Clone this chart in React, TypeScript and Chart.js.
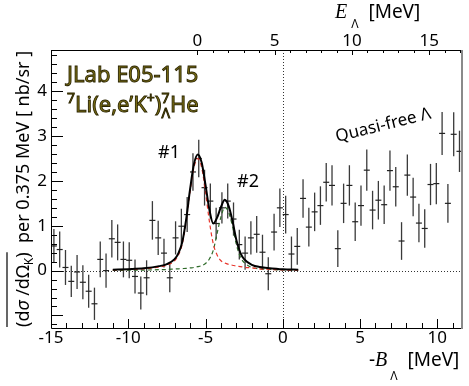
import { useEffect, useRef } from "react";
import { Chart, registerables } from "chart.js";

Chart.register(...registerables);

// ---- data ----
const binCenters = [
  -14.8125, -14.4375, -14.0625, -13.6875, -13.3125, -12.9375, -12.5625, -12.1875, -11.8125, -11.4375,
  -11.0625, -10.6875, -10.3125, -9.9375, -9.5625, -9.1875, -8.8125, -8.4375, -8.0625, -7.6875,
  -7.3125, -6.9375, -6.5625, -6.1875, -5.8125, -5.4375, -5.0625, -4.6875, -4.3125, -3.9375,
  -3.5625, -3.1875, -2.8125, -2.4375, -2.0625, -1.6875, -1.3125, -0.9375, -0.5625, -0.1875,
  0.1875, 0.5625, 0.9375, 1.3125, 1.6875, 2.0625, 2.4375, 2.8125, 3.1875, 3.5625,
  3.9375, 4.3125, 4.6875, 5.0625, 5.4375, 5.8125, 6.1875, 6.5625, 6.9375, 7.3125,
  7.6875, 8.0625, 8.4375, 8.8125, 9.1875, 9.5625, 9.9375, 10.3125, 10.6875, 11.0625,
  11.4375,
];
const yields = [
  0.55, 0.47, 0.07, -0.24, -0.03, -0.26, -0.46, -0.74, 0.25, 0.0,
  0.71, 0.63, 0.25, 0.23, -0.13, -0.5, -0.16, 1.12, 0.73, 0.39,
  -0.16, 0.73, 0.99, 1.25, 2.2, 2.5, 1.85, 1.55, 1.05, 1.4,
  1.55, 1.15, 0.58, 0.39, 0.73, 0.81, 0.41, -0.07, 0.86, 1.4,
  1.25, 0.37, 0.54, 1.61, 0.97, 1.31, 1.45, 1.97, 1.9, 0.49,
  1.5, 1.9, 1.09, 1.45, 2.24, 1.35, 1.57, 1.47, 2.23, 1.87,
  0.66, 2.13, 1.64, 1.06, 0.94, 1.92, 1.94, 3.06, 1.5, 3.04,
  2.66,
];
const errors = [
  0.38, 0.4, 0.39, 0.35, 0.38, 0.38, 0.37, 0.36, 0.4, 0.38,
  0.42, 0.4, 0.4, 0.4, 0.38, 0.37, 0.39, 0.43, 0.38, 0.32,
  0.32, 0.37, 0.39, 0.39, 0.42, 0.42, 0.4, 0.39, 0.35, 0.35,
  0.39, 0.37, 0.33, 0.37, 0.37, 0.41, 0.39, 0.37, 0.41, 0.43,
  0.42, 0.39, 0.41, 0.43, 0.43, 0.43, 0.43, 0.43, 0.45, 0.41,
  0.44, 0.45, 0.43, 0.45, 0.46, 0.43, 0.43, 0.43, 0.45, 0.44,
  0.42, 0.46, 0.43, 0.43, 0.43, 0.46, 0.46, 0.48, 0.43, 0.49,
  0.46,
];

const fitX = [
  -11, -10, -9, -8, -7.5, -7, -6.75, -6.5, -6.25, -6, -5.75, -5.5, -5.25, -5, -4.75,
  -4.5, -4.25, -4, -3.75, -3.5, -3.25, -3, -2.75, -2.5, -2, -1.5, -1, 0, 1,
];
const fitTotal = [
  0.02, 0.033, 0.052, 0.1, 0.145, 0.255, 0.39, 0.645, 1.15, 1.81, 2.37, 2.59, 2.41, 1.91, 1.36,
  1.05, 1.18, 1.42, 1.58, 1.44, 1.1, 0.68, 0.4, 0.255, 0.13, 0.08, 0.06, 0.03, 0.02,
];
const fitPeak1 = [
  0.015, 0.025, 0.04, 0.08, 0.12, 0.22, 0.35, 0.6, 1.1, 1.75, 2.3, 2.5, 2.3, 1.75, 1.1,
  0.6, 0.35, 0.22, 0.17, 0.14, 0.12, 0.1, 0.09, 0.075, 0.06, 0.04, 0.03, 0.015, 0.01,
];
const fitPeak2 = [
  0.005, 0.008, 0.012, 0.02, 0.025, 0.035, 0.04, 0.045, 0.05, 0.06, 0.07, 0.09, 0.11, 0.16, 0.26,
  0.45, 0.83, 1.2, 1.41, 1.3, 0.98, 0.58, 0.31, 0.18, 0.07, 0.04, 0.03, 0.015, 0.01,
];

const bTickLabels = [-15, -10, -5, 0, 5, 10];
const eTickLabels = [0, 5, 10, 15];
const yTickLabels = [0, 1, 2, 3, 4];
const E_OFFSET = 5.52;
const X_MIN = -15;
const X_MAX = 11.6;
const Y_MIN = -1.28;
const Y_MAX = 4.92;

const SANS = '"Noto Sans", "DejaVu Sans", sans-serif';
const SERIF = '"Liberation Serif", "DejaVu Serif", serif';

const errorBarPlugin = {
  id: "errorBars",
  beforeDatasetsDraw(chart: any) {
    const { ctx, chartArea, scales } = chart;
    const x = scales.x;
    const y = scales.y;
    ctx.save();
    ctx.beginPath();
    ctx.rect(chartArea.left, chartArea.top, chartArea.right - chartArea.left, chartArea.bottom - chartArea.top);
    ctx.clip();
    // dotted zero lines
    ctx.setLineDash([1, 2]);
    ctx.strokeStyle = "#333";
    ctx.lineWidth = 1;
    const x0 = Math.round(x.getPixelForValue(0)) + 0.5;
    const y0 = Math.round(y.getPixelForValue(0)) + 0.5;
    ctx.beginPath();
    ctx.moveTo(x0, chartArea.top);
    ctx.lineTo(x0, chartArea.bottom);
    ctx.moveTo(chartArea.left, y0);
    ctx.lineTo(chartArea.right, y0);
    ctx.stroke();
    ctx.setLineDash([]);
    // vertical error bars
    ctx.strokeStyle = "#3a3a3a";
    ctx.lineWidth = 1.3;
    for (let i = 0; i < binCenters.length; i++) {
      const px = x.getPixelForValue(binCenters[i]);
      const pLo = y.getPixelForValue(yields[i] - errors[i]);
      const pHi = y.getPixelForValue(yields[i] + errors[i]);
      ctx.beginPath();
      ctx.moveTo(px, pLo);
      ctx.lineTo(px, pHi);
      ctx.stroke();
    }
    ctx.restore();
  },
};

function drawText(ctx: CanvasRenderingContext2D, text: string, x: number, y: number, font: string) {
  ctx.font = font;
  ctx.fillText(text, x, y);
  return ctx.measureText(text).width;
}

const decorPlugin = {
  id: "decor",
  afterDraw(chart: any) {
    const { ctx, chartArea, scales } = chart;
    const { left, right, top, bottom } = chartArea;
    const x = scales.x;
    const x2 = scales.x2;
    const y = scales.y;
    ctx.save();
    // frame
    ctx.strokeStyle = "#000";
    ctx.lineWidth = 1;
    ctx.beginPath();
    ctx.moveTo(left + 0.5, top);
    ctx.lineTo(left + 0.5, bottom + 0.5);
    ctx.lineTo(right, bottom + 0.5);
    ctx.moveTo(left, top + 0.5);
    ctx.lineTo(right, top + 0.5);
    ctx.stroke();
    ctx.strokeStyle = "#8a8a8a";
    ctx.lineWidth = 2;
    ctx.beginPath();
    ctx.moveTo(right, top);
    ctx.lineTo(right, bottom + 1);
    ctx.stroke();

    // ticks
    ctx.strokeStyle = "#000";
    ctx.lineWidth = 1;
    ctx.beginPath();
    for (let k = Math.ceil(Y_MIN / 0.2); k <= Math.floor(Y_MAX / 0.2); k++) {
      const v = k * 0.2;
      const py = Math.round(y.getPixelForValue(v)) + 0.5;
      const len = k % 5 === 0 ? 12 : 6;
      ctx.moveTo(left, py);
      ctx.lineTo(left + len, py);
    }
    for (let v = Math.ceil(X_MIN); v <= Math.floor(X_MAX); v++) {
      const px = Math.round(x.getPixelForValue(v)) + 0.5;
      const len = v % 5 === 0 ? 9 : 5;
      ctx.moveTo(px, bottom);
      ctx.lineTo(px, bottom - len);
    }
    for (let v = 0; v <= Math.floor(X_MAX + E_OFFSET); v++) {
      const px = Math.round(x2.getPixelForValue(v)) + 0.5;
      const len = v % 5 === 0 ? 5 : 3;
      ctx.moveTo(px, top);
      ctx.lineTo(px, top + len);
    }
    ctx.stroke();

    // tick labels
    ctx.fillStyle = "#000";
    ctx.font = `17px ${SANS}`;
    ctx.textAlign = "right";
    ctx.textBaseline = "middle";
    for (const v of yTickLabels) {
      ctx.fillText(String(v), 47, y.getPixelForValue(v));
    }
    ctx.textAlign = "center";
    ctx.textBaseline = "alphabetic";
    for (const v of bTickLabels) {
      ctx.fillText(String(v), x.getPixelForValue(v), 343);
    }
    for (const v of eTickLabels) {
      ctx.fillText(String(v), x2.getPixelForValue(v), 46);
    }

    // axis titles
    ctx.textAlign = "left";
    // bottom: -B_Λ [MeV]
    let cx = 369;
    cx += drawText(ctx, "-", cx, 366, `19px ${SANS}`);
    cx += drawText(ctx, "B", cx, 366, `italic 20px ${SERIF}`);
    cx += 3;
    cx += drawText(ctx, "Λ", cx, 380, `12px ${SANS}`);
    cx += drawText(ctx, "  [MeV]", cx, 366, `19px ${SANS}`);
    // top: E_Λ [MeV]
    cx = 335;
    cx += drawText(ctx, "E", cx, 18, `italic 20px ${SERIF}`);
    cx += 4;
    cx += drawText(ctx, "Λ", cx, 28, `12px ${SANS}`);
    cx += drawText(ctx, "  [MeV]", cx, 18, `19px ${SANS}`);

    // y title (rotated)
    ctx.save();
    ctx.translate(29, 327);
    ctx.rotate(-Math.PI / 2);
    let rx = 0;
    const f18 = `18px ${SANS}`;
    rx += drawText(ctx, "(d", rx, 0, f18);
    rx += drawText(ctx, "σ", rx, 0, `italic 18px ${SANS}`);
    rx += drawText(ctx, " /dΩ", rx, 0, f18);
    rx += drawText(ctx, "K", rx, 4, `12px ${SANS}`);
    rx += drawText(ctx, ")", rx, 0, f18);
    const overEnd = rx;
    ctx.strokeStyle = "#000";
    ctx.lineWidth = 1.2;
    ctx.beginPath();
    ctx.moveTo(0, -22);
    ctx.lineTo(overEnd, -22);
    ctx.stroke();
    rx += drawText(ctx, "  per 0.375 MeV [ nb/sr ]", rx, 0, f18);
    ctx.restore();

    // experiment label
    ctx.lineWidth = 0.9;
    ctx.strokeStyle = "#2a2400";
    ctx.fillStyle = "#7f7214";
    ctx.font = `22px ${SANS}`;
    ctx.fillText("JLab E05-115", 67, 82);
    ctx.strokeText("JLab E05-115", 67, 82);
    const parts: [string, number, number][] = [
      ["7", 14, -9],
      ["Li(e,e’K", 22, 0],
      ["+", 14, -9],
      [")", 22, 0],
      ["7", 14, -9],
    ];
    cx = 67;
    const by = 112;
    for (const [t, s, dy] of parts) {
      ctx.font = `${s}px ${SANS}`;
      ctx.fillText(t, cx, by + dy);
      ctx.strokeText(t, cx, by + dy);
      cx += ctx.measureText(t).width;
    }
    ctx.font = `14px ${SANS}`;
    const lamX = cx - ctx.measureText("7").width;
    ctx.fillText("Λ", lamX, by + 6);
    ctx.strokeText("Λ", lamX, by + 6);
    cx = Math.max(cx, lamX + ctx.measureText("Λ").width);
    ctx.font = `22px ${SANS}`;
    ctx.fillText("He", cx, by);
    ctx.strokeText("He", cx, by);

    // peak labels
    ctx.fillStyle = "#000";
    ctx.font = `18px ${SANS}`;
    ctx.fillText("#1", 158, 158);
    ctx.fillText("#2", 237, 187);

    // Quasi-free label
    ctx.save();
    ctx.translate(337, 142);
    ctx.rotate((-14 * Math.PI) / 180);
    ctx.font = `17px ${SANS}`;
    ctx.fillText("Quasi-free Λ", 0, 0);
    ctx.restore();

    ctx.restore();
  },
};

export default function App() {
  const canvasRef = useRef<HTMLCanvasElement | null>(null);

  useEffect(() => {
    document.body.style.margin = "0";
    const canvas = canvasRef.current;
    if (!canvas) return;
    const pts = binCenters.map((b, i) => ({ x: b, y: yields[i] }));
    const mk = (arr: number[]) => fitX.map((v, i) => ({ x: v, y: arr[i] }));
    const chart = new Chart(canvas, {
      type: "scatter",
      data: {
        datasets: [
          {
            type: "line",
            data: mk(fitTotal),
            borderColor: "#000",
            borderWidth: 2,
            pointRadius: 0,
            cubicInterpolationMode: "monotone",
            order: 0,
          } as any,
          {
            type: "line",
            data: mk(fitPeak1),
            borderColor: "#e8352b",
            borderWidth: 1.2,
            borderDash: [4, 3],
            pointRadius: 0,
            cubicInterpolationMode: "monotone",
            order: 1,
          } as any,
          {
            type: "line",
            data: mk(fitPeak2),
            borderColor: "#2f6b2a",
            borderWidth: 1.2,
            borderDash: [4, 3],
            pointRadius: 0,
            cubicInterpolationMode: "monotone",
            order: 2,
          } as any,
          {
            type: "scatter",
            data: pts,
            pointStyle: "line",
            pointRadius: 3,
            borderColor: "#222",
            borderWidth: 1.2,
            order: 3,
          } as any,
        ],
      },
      options: {
        responsive: false,
        animation: false,
        events: [],
        layout: { padding: { left: 51, right: 7, top: 50, bottom: 58 } },
        plugins: { legend: { display: false }, tooltip: { enabled: false } },
        scales: {
          x: { type: "linear", min: X_MIN, max: X_MAX, display: false },
          x2: { type: "linear", position: "top", min: X_MIN + E_OFFSET, max: X_MAX + E_OFFSET, display: false },
          y: { type: "linear", min: Y_MIN, max: Y_MAX, display: false },
        },
      } as any,
      plugins: [errorBarPlugin, decorPlugin],
    });
    return () => chart.destroy();
  }, []);

  return (
    <div style={{ width: 469, height: 386, background: "#fff" }}>
      <canvas ref={canvasRef} width={469} height={386} style={{ display: "block" }} />
    </div>
  );
}
